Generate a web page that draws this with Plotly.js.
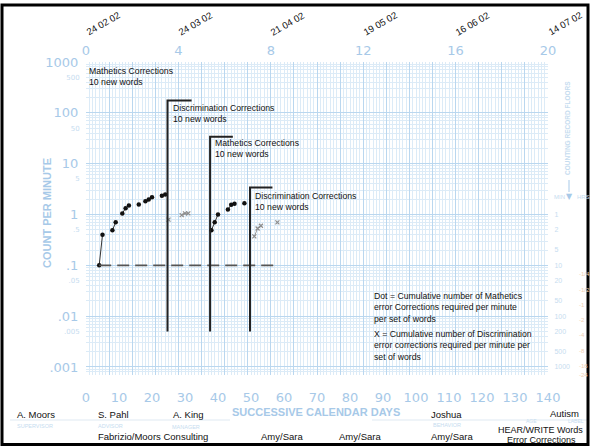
<!DOCTYPE html>
<html><head><meta charset="utf-8">
<script src="https://cdn.plot.ly/plotly-3.0.1.min.js"></script>
<style>html,body{margin:0;padding:0;background:#fff}#c{width:590px;height:446px}</style>
</head><body><div id="c"></div>
<script>
// ---------- data ----------
const mathDays1 = [4,5,8,9,11,12,13,16,18,19,20,23,24];
const mathVals1 = [0.1,0.4,0.49,0.7,1.05,1.33,1.5,1.57,1.82,1.97,2.18,2.33,2.47];
const mathDays2 = [38,39,40,43,44,45,48];
const mathVals2 = [0.49,0.7,1.0,1.25,1.55,1.62,1.67];
const discDays1 = [25,29,30,31];
const discVals1 = [0.79,0.97,1.05,1.05];
const discDays2 = [51,52,53,58];
const discVals2 = [0.37,0.53,0.6,0.7];
const phaseDays = [24.7,37.6,49.7];
const phaseTops = [175,34,3.4];
const phaseArmEnds = [32,44.5,56.5];
const phaseBottom = 0.005;
const phaseLabels = ["Discrimination Corrections<br>10 new words","Mathetics Corrections<br>10 new words","Discrimination Corrections<br>10 new words"];
const floorDays = [4,58];
const floorValue = 0.1;
const dayTicks = [0,10,20,30,40,50,60,70,80,90,100,110,120,130,140];
const weekTicks = [0,4,8,12,16,20];
const dateLabels = ["24 02 02","24 03 02","21 04 02","19 05 02","16 06 02","14 07 02"];
const bigYVals = [1000,100,10,1,0.1,0.01,0.001];
const bigYText = ["1000","100","10","1",".1",".01",".001"];
const smallYVals = [500,50,5,0.5,0.05,0.005];
const smallYText = ["500","50","5",".5",".05",".005"];
const minFloors = [1,0.5,0.2,0.1,0.05,0.02,0.01,0.005,0.002,0.001];
const minText = ["1","2","5","10","20","50","100","200","500","1000"];
const hrsValues = [0.25,0.5,1,2,4,8,16,24];
const hrsText = ["1/4","1/2","1","2","4","8","16","24"];

// ---------- style ----------
const BLUE = '#a7c9e8', FAINT = '#c6dcef', MAJ = '#bad7ef', MIN = '#dcebf7';
const L = 86, R = 548, T = 62, B = 375;
const px = x => (x - L) / (R - L);
const py = y => (B - y) / (B - T);

function segs(d, v){ const xs=[], ys=[]; for(let i=0;i<d.length;i++){ if(i>0 && d[i]-d[i-1]>1){xs.push(null);ys.push(null);} xs.push(d[i]); ys.push(v[i]); } return {xs, ys}; }

const traces = [];
[[mathDays1,mathVals1],[mathDays2,mathVals2]].forEach(([d,v])=>{
  const s = segs(d,v);
  traces.push({x:s.xs,y:s.ys,mode:'lines+markers',connectgaps:false,line:{color:'#333',width:1},
    marker:{color:'#111',size:4.5,symbol:'circle'},hoverinfo:'skip',showlegend:false});
});
[[discDays1,discVals1],[discDays2,discVals2]].forEach(([d,v])=>{
  const s = segs(d,v);
  traces.push({x:s.xs,y:s.ys,mode:'lines+markers',connectgaps:false,line:{color:'#9a9a9a',width:1},
    marker:{color:'#8c8c8c',size:4,symbol:'x-thin',line:{color:'#8c8c8c',width:1.2}},hoverinfo:'skip',showlegend:false});
});
traces.push({x:floorDays,y:[floorValue,floorValue],mode:'lines',line:{color:'#555',width:1.8,dash:'12px,6px'},hoverinfo:'skip',showlegend:false});
phaseDays.forEach((d,i)=>{
  traces.push({x:[d,d,phaseArmEnds[i]],y:[phaseBottom,phaseTops[i],phaseTops[i]],mode:'lines',
    line:{color:'#222',width:2},hoverinfo:'skip',showlegend:false});
});
// invisible traces to activate the extra axes
traces.push({x:[0,20],y:[1,1],xaxis:'x2',yaxis:'y',mode:'none',hoverinfo:'skip',showlegend:false});
traces.push({x:[0,140],y:[1,1],xaxis:'x',yaxis:'y2',mode:'none',hoverinfo:'skip',showlegend:false});
traces.push({x:[0,140],y:[1,1],xaxis:'x',yaxis:'y3',mode:'none',hoverinfo:'skip',showlegend:false});

const minorY = [];
for (let e=-4; e<=2; e++) for (let m=2; m<=9; m++) minorY.push(m*Math.pow(10,e));
const yRange = [Math.log10(1/1440), 3];
const tickFont = {family:'DejaVu Sans, sans-serif', size:13, color:BLUE};
const txtFont = {family:'Liberation Sans, Arial, sans-serif', size:8.7, color:'#111'};

const ann = [];
const A = (text, x, y, o={}) => ann.push(Object.assign({text, x:px(x), y:py(y), xref:'paper', yref:'paper', showarrow:false,
  xanchor:'left', yanchor:'middle', align:'left', font:txtFont}, o));

A("Mathetics Corrections<br>10 new words", 87, 64, {yanchor:'top'});
phaseLabels.forEach((t,i)=>{
  const xs=[171,213,253], ys=[101,136,189];
  A(t, xs[i], ys[i], {yanchor:'top'});
});
A("Dot = Cumulative number of Mathetics<br>error Corrections required per minute<br>per set of words", 372, 289, {yanchor:'top'});
A("X = Cumulative number of Discrimination<br>error corrections required per minute per<br>set of words", 372, 327, {yanchor:'top'});

// dates
weekTicks.forEach((w,i)=>{
  A(dateLabels[i], L + w*(R-L)/20 + 17, 24, {xanchor:'center', yanchor:'middle', textangle:-30, font:{family:'Liberation Sans, Arial',size:9.5,color:'#111'}});
});
// axis titles
A("<b>COUNT PER MINUTE</b>", 47, 213, {xanchor:'center', textangle:-90, font:{family:'Liberation Sans, Arial',size:11,color:BLUE}});
A("<b>SUCCESSIVE CALENDAR DAYS</b>", 316, 412, {xanchor:'center', font:{family:'Liberation Sans, Arial',size:11,color:BLUE}});
// right side
A("<b>COUNTING RECORD FLOORS</b>", 568, 128, {xanchor:'center', textangle:-90, font:{family:'Liberation Sans, Arial',size:6.5,color:FAINT}});
A("MIN", 552, 197, {font:{family:'Liberation Sans, Arial',size:6,color:FAINT}});
A("HRS", 575, 197, {font:{family:'Liberation Sans, Arial',size:6,color:FAINT}});
A("▼", 569, 196, {xanchor:'center', font:{family:'DejaVu Sans',size:8,color:BLUE}});
hrsValues.forEach((h,i)=>{
  ann.push({text:'-'+hrsText[i], x:px(577), y:Math.log10(1/(h*60)), xref:'paper', yref:'y', showarrow:false, xanchor:'left',
    font:{family:'Liberation Sans, Arial', size:6, color:'#efcfb4'}});
});
// bottom info
const nameF = {family:'Liberation Sans, Arial',size:9.5,color:'#111'};
const faintF = {family:'Liberation Sans, Arial',size:5.5,color:FAINT};
A("A. Moors", 15, 414, {font:nameF});
A("SUPERVISOR", 15, 426, {font:faintF});
A("S. Pahl", 96, 414, {font:nameF});
A("ADVISOR", 96, 426, {font:faintF});
A("A. King", 171, 415, {font:nameF});
A("MANAGER", 170, 427, {font:faintF});
A("Fabrizio/Moors Consulting", 96, 437, {font:nameF});
A("Amy/Sara", 259, 437, {font:nameF});
A("Amy/Sara", 337, 437, {font:nameF});
A("Joshua", 429, 414, {font:nameF});
A("BEHAVIOR", 431, 425, {font:faintF});
A("AGE", 524, 421, {font:{family:'Liberation Sans, Arial',size:5,color:FAINT}});
A("LABEL", 566, 421, {font:{family:'Liberation Sans, Arial',size:5,color:FAINT}});
A("Autism", 548, 413, {font:nameF});
A("Amy/Sara", 429, 437, {font:nameF});
A("HEAR/WRITE Words", 585, 430, {xanchor:'right', font:Object.assign({}, nameF, {size:9})});
A("Error Corrections", 578, 439.5, {xanchor:'right', font:Object.assign({}, nameF, {size:9})});

const shapes = [
  {type:'line', xref:'paper', yref:'paper', x0:px(10), x1:px(230), y0:py(420), y1:py(420), line:{color:'#dfe9f2',width:1}},
  {type:'line', xref:'paper', yref:'paper', x0:px(372), x1:px(588), y0:py(420), y1:py(420), line:{color:'#dfe9f2',width:1}},
  {type:'line', xref:'paper', yref:'paper', x0:px(569), x1:px(569), y0:py(180), y1:py(192), line:{color:BLUE,width:1}},
  {type:'rect', xref:'paper', yref:'paper', x0:px(2), x1:px(588), y0:py(444.5), y1:py(5), line:{color:'#000',width:3}}
];

const layout = {
  width:590, height:446, margin:{l:L, r:590-R, t:T, b:446-B, pad:0},
  paper_bgcolor:'#fff', plot_bgcolor:'#fff', showlegend:false,
  xaxis:{range:[0,140], tickmode:'array', tickvals:dayTicks, ticktext:dayTicks.map(String), tickfont:tickFont,
    showgrid:false, zeroline:false, showline:false, ticks:'outside', ticklen:10, tickcolor:'rgba(0,0,0,0)',
    minor:{dtick:1, tick0:0, showgrid:true, gridcolor:MIN, gridwidth:1, ticks:''}, fixedrange:true},
  xaxis2:{overlaying:'x', side:'top', range:[0,20], tickmode:'array', tickvals:weekTicks, ticktext:weekTicks.map(String),
    tickfont:tickFont, showgrid:true, gridcolor:MAJ, gridwidth:1, zeroline:false, showline:false, ticks:'outside', ticklen:1,
    tickcolor:'rgba(0,0,0,0)', minor:{dtick:1, tick0:0, showgrid:true, gridcolor:MAJ, gridwidth:1, ticks:''}},
  yaxis:{type:'log', range:yRange, tickmode:'array', tickvals:bigYVals, ticktext:bigYText, tickfont:tickFont,
    showgrid:true, gridcolor:MAJ, gridwidth:1, zeroline:false, showline:false, ticks:'outside', ticklen:4, tickcolor:'rgba(0,0,0,0)',
    minor:{tickmode:'array', tickvals:minorY, showgrid:true, gridcolor:MIN, gridwidth:1, ticks:''}},
  yaxis2:{type:'log', overlaying:'y', side:'left', range:yRange, tickmode:'array', tickvals:smallYVals, ticktext:smallYText,
    tickfont:{family:'DejaVu Sans',size:7,color:FAINT}, showgrid:false, zeroline:false, showline:false, ticks:'outside', ticklen:4, tickcolor:'rgba(0,0,0,0)'},
  yaxis3:{type:'log', overlaying:'y', side:'right', range:yRange, tickmode:'array', tickvals:minFloors, ticktext:minText,
    tickfont:{family:'Liberation Sans, Arial',size:7,color:FAINT}, showgrid:false, zeroline:false, showline:false, ticks:'outside', ticklen:4, tickcolor:'rgba(0,0,0,0)'},
  annotations:ann, shapes:shapes
};
Plotly.newPlot('c', traces, layout, {staticPlot:true, displayModeBar:false});
</script></body></html>
